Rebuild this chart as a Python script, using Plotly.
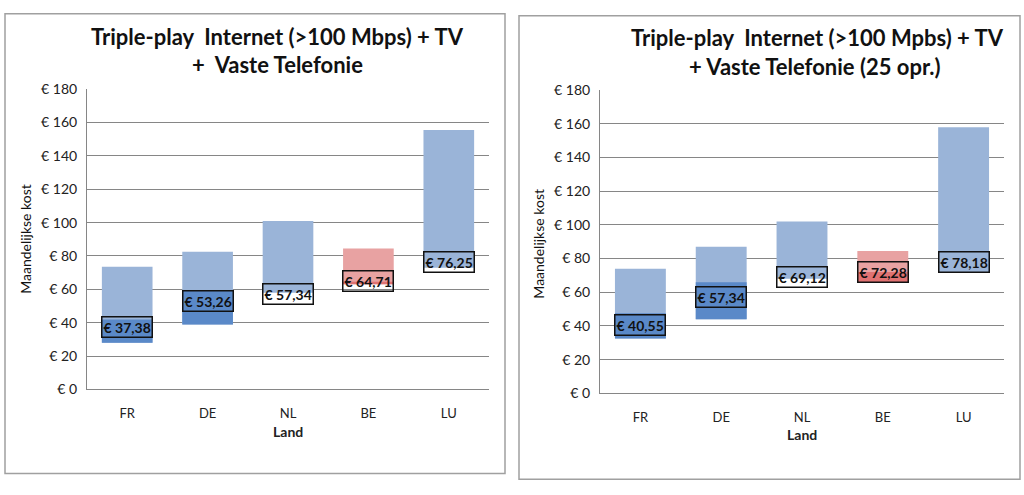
import plotly.graph_objects as go

countries = ["FR", "DE", "NL", "BE", "LU"]

# Panel 1: Triple-play Internet (>100 Mbps) + TV + Vaste Telefonie
min1 = [28, 39, 58, 63, 73]
dark_top1 = [42, 59, 58, 64.5, 73]
max1 = [73.5, 82.5, 101, 84.5, 155.5]
avg1 = [37.38, 53.26, 57.34, 64.71, 76.25]
lbl1 = ["€ 37,38", "€ 53,26", "€ 57,34", "€ 64,71", "€ 76,25"]

# Panel 2: Triple-play Internet (>100 Mpbs) + TV + Vaste Telefonie (25 opr.)
min2 = [32.5, 44, 68, 66, 72]
dark_top2 = [47.5, 66, 68, 72, 72]
max2 = [74, 87, 102, 84.5, 158]
avg2 = [40.55, 57.34, 69.12, 72.28, 78.18]
lbl2 = ["€ 40,55", "€ 57,34", "€ 69,12", "€ 72,28", "€ 78,18"]

titles = [["Triple-play  Internet (>100 Mbps) + TV", "+  Vaste Telefonie"],
          ["Triple-play  Internet (>100 Mpbs) + TV", "+ Vaste Telefonie (25 opr.)"]]

yticks = [0, 20, 40, 60, 80, 100, 120, 140, 160, 180]
ytick_text = ["€ " + str(v) for v in yticks]

LIGHT_BLUE = "#9AB4D8"
DARK_BLUE = "#5A89C8"
LIGHT_RED = "#E8A2A2"
DARK_RED = "#E07272"

W, H = 1024, 495
FONT = "Lato"

fig = go.Figure()

def add_panel(mins, darks, maxs, avgs, labels, xa, ya):
    light_cols = [LIGHT_RED if c == "BE" else LIGHT_BLUE for c in countries]
    dark_cols = [DARK_RED if c == "BE" else DARK_BLUE for c in countries]
    fig.add_trace(go.Bar(
        x=countries, y=[mx - mn for mx, mn in zip(maxs, mins)], base=mins,
        marker=dict(color=light_cols, line=dict(width=0)), width=0.63,
        xaxis=xa, yaxis=ya, showlegend=False, hoverinfo="skip"))
    fig.add_trace(go.Bar(
        x=countries, y=[d - mn for d, mn in zip(darks, mins)], base=mins,
        marker=dict(color=dark_cols, line=dict(width=0)), width=0.63,
        xaxis=xa, yaxis=ya, showlegend=False, hoverinfo="skip"))
    for c, v, t in zip(countries, avgs, labels):
        fig.add_annotation(
            x=c, y=v, xref=xa, yref=ya, text="<b>" + t + "</b>",
            showarrow=False, font=dict(family=FONT, size=14, color="#111"),
            bordercolor="#111", borderwidth=1.5, borderpad=1,
            bgcolor="rgba(0,0,0,0)")

add_panel(min1, dark_top1, max1, avg1, lbl1, "x", "y")
add_panel(min2, dark_top2, max2, avg2, lbl2, "x2", "y2")

def px_x(p):
    return p / W

def px_y(p):
    return 1 - p / H

axis_common = dict(showgrid=False, showline=True, linecolor="#868686", linewidth=1,
                   ticks="", ticklabelstandoff=12,
                   tickfont=dict(family=FONT, size=13, color="#222"))
yaxis_common = dict(range=[0, 180], tickvals=yticks, ticktext=ytick_text,
                    showgrid=True, gridcolor="#868686", gridwidth=1,
                    showline=True, linecolor="#868686", linewidth=1, zeroline=False,
                    ticks="", ticklen=0, ticklabelstandoff=6,
                    tickfont=dict(family=FONT, size=14, color="#222"))

fig.update_layout(
    width=W, height=H, margin=dict(l=0, r=0, t=0, b=0),
    paper_bgcolor="white", plot_bgcolor="white", barmode="overlay",
    xaxis=dict(domain=[px_x(87), px_x(489)], anchor="y", **axis_common),
    yaxis=dict(domain=[px_y(394), px_y(83)], anchor="x", **yaxis_common),
    xaxis2=dict(domain=[px_x(600), px_x(1004)], anchor="y2", **axis_common),
    yaxis2=dict(domain=[px_y(398), px_y(84)], anchor="x2", **yaxis_common),
)

# Panel borders
fig.add_shape(type="rect", xref="paper", yref="paper",
              x0=px_x(5), x1=px_x(505), y0=px_y(481), y1=px_y(5),
              line=dict(color="#A0A0A0", width=1.5))
fig.add_shape(type="rect", xref="paper", yref="paper",
              x0=px_x(519), x1=px_x(1020), y0=px_y(487), y1=px_y(7),
              line=dict(color="#A0A0A0", width=1.5))

# Titles
title_pos = [((277, 28), (277, 57)), ((817, 30), (815, 60))]
for (l1, l2), ((x1, y1), (x2, y2)) in zip(titles, title_pos):
    for txt, xx, yy in ((l1, x1, y1), (l2, x2, y2)):
        fig.add_annotation(x=px_x(xx), y=px_y(yy), xref="paper", yref="paper",
                           text="<b>" + txt + "</b>", showarrow=False,
                           xanchor="center", yanchor="middle",
                           font=dict(family=FONT, size=22, color="#111"))

# Axis titles
for xx, yy in ((26, 238), (539, 243)):
    fig.add_annotation(x=px_x(xx), y=px_y(yy), xref="paper", yref="paper",
                       text="Maandelijkse kost", textangle=-90, showarrow=False,
                       xanchor="center", yanchor="middle",
                       font=dict(family=FONT, size=14, color="#111"))
for xx, yy in ((288, 438), (802, 441)):
    fig.add_annotation(x=px_x(xx), y=px_y(yy), xref="paper", yref="paper",
                       text="<b>Land</b>", showarrow=False,
                       xanchor="center", yanchor="middle",
                       font=dict(family=FONT, size=14, color="#222"))

fig.write_html("out.html", config={"displayModeBar": False},
               post_script="document.body.style.margin='0';document.body.style.overflow='hidden';")
